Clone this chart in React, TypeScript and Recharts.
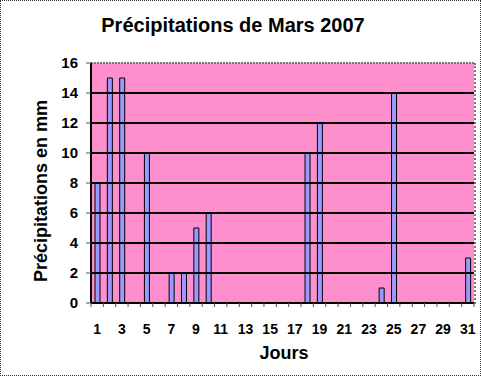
import { BarChart, Bar, XAxis, YAxis, CartesianGrid, ReferenceLine } from 'recharts';

const days = Array.from({ length: 31 }, (_, i) => String(i + 1));
const rain = [8, 15, 15, 0, 10, 0, 2, 2, 5, 6, 0, 0, 0, 0, 0, 0, 0, 10, 12, 0, 0, 0, 0, 1, 14, 0, 0, 0, 0, 0, 3];
const yTicks = [0, 2, 4, 6, 8, 10, 12, 14, 16];
const gridValues = [2, 4, 6, 8, 10, 12, 14];

const data = days.map((d, i) => ({ jour: d, mm: rain[i] }));

const FONT = 'Arial, "Liberation Sans", sans-serif';
const STEP = 383 / 31;

const DayTick = (props: any) => {
  const { x, y, payload, index } = props;
  const n = Number(payload.value);
  return (
    <g>
      <line x1={x - STEP / 2} y1={y} x2={x - STEP / 2} y2={y + 4} stroke="#555" />
      {index === 30 && <line x1={x + STEP / 2} y1={y} x2={x + STEP / 2} y2={y + 4} stroke="#555" />}
      {n % 2 === 1 && (
        <text x={x} y={y + 31} textAnchor="middle" fontFamily={FONT} fontWeight="bold" fontSize={14} fill="#000">
          {payload.value}
        </text>
      )}
    </g>
  );
};

export default function App() {
  return (
    <div
      style={{
        position: 'absolute',
        left: 0,
        top: 0,
        width: 481,
        height: 376,
        boxSizing: 'border-box',
        border: '1px dotted #333',
        background: '#fff',
        fontFamily: FONT,
      }}
    >
      <div
        style={{
          position: 'absolute',
          left: 0,
          top: 13,
          width: 464,
          textAlign: 'center',
          fontSize: 20,
          fontWeight: 'bold',
        }}
      >
        Précipitations de Mars 2007
      </div>
      <div
        style={{
          position: 'absolute',
          left: 40,
          top: 190,
          transform: 'translate(-50%, -50%) rotate(-90deg)',
          whiteSpace: 'nowrap',
          fontSize: 18,
          fontWeight: 'bold',
        }}
      >
        Précipitations en mm
      </div>
      <div
        style={{
          position: 'absolute',
          left: 283,
          top: 352,
          transform: 'translate(-50%, -50%)',
          fontSize: 18,
          fontWeight: 'bold',
        }}
      >
        Jours
      </div>
      <div style={{ position: 'absolute', left: -1, top: -1 }}>
        <BarChart width={481} height={376} data={data} margin={{ top: 63, right: 7, bottom: 0, left: 0 }}>
          <CartesianGrid fill="#ff8fcc" stroke="none" vertical={false} horizontal={false} />
          {gridValues.map((v) => (
            <ReferenceLine key={v} y={v} stroke="#000" strokeWidth={2} />
          ))}
          <ReferenceLine y={16} stroke="#777" strokeWidth={2} strokeDasharray="2 1" />
          <XAxis
            dataKey="jour"
            interval={0}
            height={73}
            axisLine={{ stroke: '#000', strokeWidth: 2 }}
            tickLine={false}
            tickSize={0}
            tickMargin={0}
            tick={<DayTick />}
          />
          <YAxis
            width={91}
            domain={[0, 16]}
            ticks={yTicks}
            interval={0}
            axisLine={{ stroke: '#000', strokeWidth: 2 }}
            tickLine={{ stroke: '#555' }}
            tickSize={5}
            tickMargin={8}
            tick={{ fill: '#000', fontSize: 15, fontWeight: 'bold', fontFamily: FONT }}
          />
          <Bar dataKey="mm" fill="#9999ff" stroke="#000" strokeWidth={1} barSize={5} isAnimationActive={false} />
        </BarChart>
      </div>
      <div
        style={{
          position: 'absolute',
          left: 473,
          top: 62,
          width: 0,
          height: 241,
          borderRight: '2px dotted #777',
        }}
      />
    </div>
  );
}
